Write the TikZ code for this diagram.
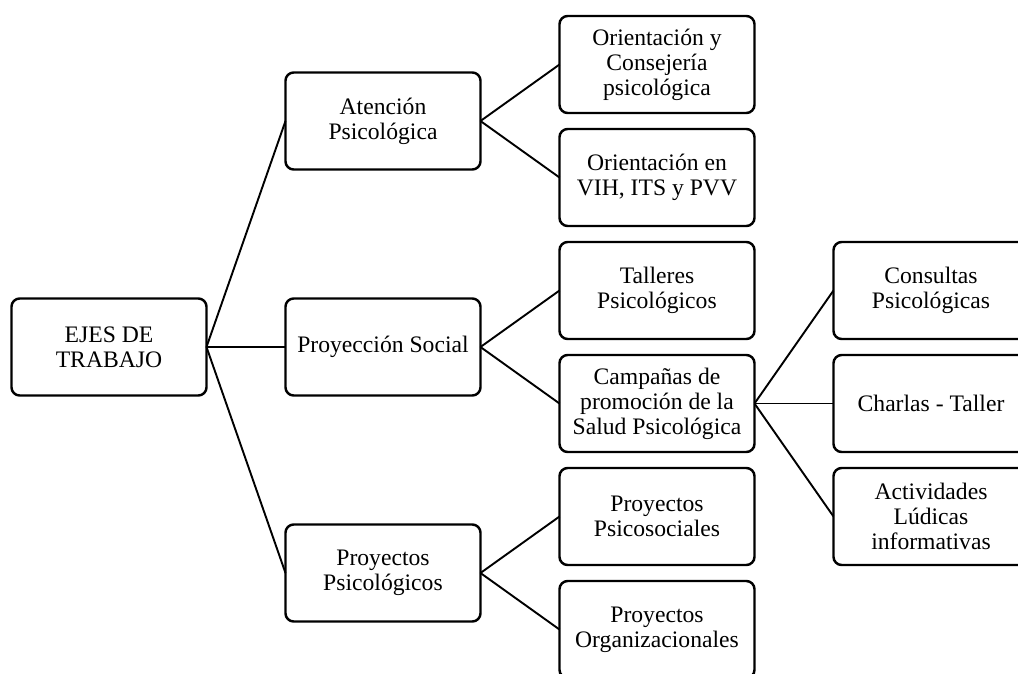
\documentclass[tikz,border=0pt]{standalone}
\usepackage{fontspec}
\setmainfont{Liberation Serif}
\usetikzlibrary{calc, positioning}

\begin{document}
\begin{tikzpicture}[line width=1.05pt, node distance=8.8pt and 43.45pt,
	box/.style={draw=black, line width=1.35pt, rounded corners=4.5pt, outer sep=0pt, inner sep=2pt,
		align=center, minimum width=107.25pt, minimum height=53.35pt, font=\fontsize{13}{13.8}\selectfont}]
	\useasboundingbox (-361.35pt,-334.675pt) rectangle (198.55pt,35.475pt);
	
	\node[box] (b1) {Orientación y\\Consejería\\psicológica};
	\node[box, below=of b1] (b2) {Orientación en\\VIH, ITS y PVV};
	\node[box, below=of b2] (b3) {Talleres\\Psicológicos};
	\node[box, below=of b3] (b4) {Campañas de\\promoción de la\\Salud Psicológica};
	\node[box, below=of b4] (b5) {Proyectos\\Psicosociales};
	\node[box, below=of b5] (b6) {Proyectos\\Organizacionales};
	
	\node[box, left=of $(b1.west)!0.5!(b2.west)$] (a2) {Atención\\Psicológica};
	\node[box, left=of $(b3.west)!0.5!(b4.west)$] (a3) {Proyección Social};
	\node[box, left=of $(b5.west)!0.5!(b6.west)$] (a4) {Proyectos\\Psicológicos};
	\node[box, left=of a3] (a1) {EJES DE\\TRABAJO};
	
	\node[box, right=of b3] (c1) {Consultas\\Psicológicas};
	\node[box, right=of b4] (c2) {Charlas - Taller};
	\node[box, right=of b5] (c3) {Actividades\\Lúdicas\\informativas};
	
	\draw (a1.east) -- (a2.west);
	\draw (a1.east) -- (a3.west);
	\draw (a1.east) -- (a4.west);
	
	\draw (a2.east) -- (b1.west);
	\draw (a2.east) -- (b2.west);
	\draw (a3.east) -- (b3.west);
	\draw (a3.east) -- (b4.west);
	\draw (a4.east) -- (b5.west);
	\draw (a4.east) -- (b6.west);
	
	\draw (b4.east) -- (c1.west);
	\draw (b4.east) -- (c2.west);
	\draw (b4.east) -- (c3.west);
	
\end{tikzpicture}
\end{document}
